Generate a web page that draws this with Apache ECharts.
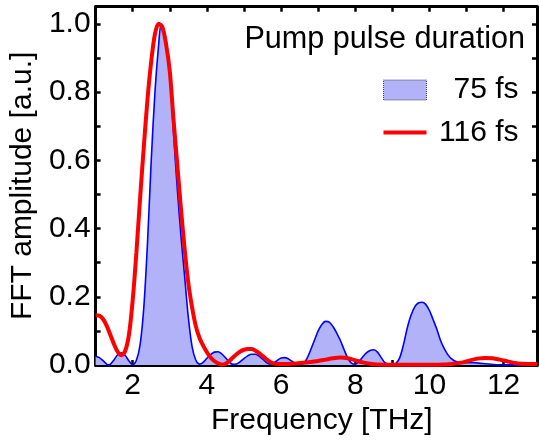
<!DOCTYPE html>
<html>
<head>
<meta charset="utf-8">
<script src="https://cdn.jsdelivr.net/npm/echarts@6/dist/echarts.min.js"></script>
<style>
html,body{margin:0;padding:0;background:#fff;}
#chart{width:539px;height:441px;}
</style>
</head>
<body>
<div id="chart"></div>
<script>
// ---- data ----
const freq75 = [1.0,1.1,1.2,1.3,1.35,1.4,1.5,1.6,1.7,1.8,1.9,2.0,2.1,2.2,2.3,2.4,2.5,2.6,2.7,2.77,2.85,2.9,3.0,3.1,3.2,3.3,3.4,3.5,3.6,3.7,3.8,3.9,4.0,4.1,4.2,4.3,4.4,4.5,4.6,4.7,4.8,4.9,5.0,5.1,5.2,5.3,5.4,5.5,5.6,5.7,5.8,5.9,6.0,6.1,6.2,6.3,6.4,6.5,6.6,6.7,6.8,6.9,7.0,7.1,7.2,7.3,7.4,7.5,7.6,7.7,7.8,7.9,8.0,8.1,8.2,8.3,8.4,8.5,8.6,8.7,8.8,8.9,9.0,9.1,9.2,9.3,9.4,9.5,9.6,9.7,9.8,9.9,10.0,10.1,10.2,10.3,10.4,10.5,10.6,10.7,10.8,11.0,11.2,11.4,11.6,11.8,12.0,12.9];
const amp75 = [0.026,0.022,0.013,0.003,0.0,0.003,0.016,0.031,0.036,0.028,0.012,0.001,0.014,0.06,0.17,0.36,0.60,0.80,0.94,1.0,0.98,0.95,0.85,0.68,0.52,0.38,0.26,0.14,0.055,0.015,0.003,0.008,0.02,0.031,0.038,0.039,0.033,0.022,0.01,0.002,0.003,0.01,0.019,0.027,0.032,0.032,0.027,0.018,0.008,0.003,0.006,0.014,0.021,0.022,0.018,0.011,0.004,0.002,0.004,0.02,0.045,0.073,0.1,0.119,0.128,0.126,0.113,0.094,0.072,0.045,0.02,0.006,0.003,0.01,0.024,0.036,0.043,0.045,0.038,0.022,0.007,0.002,0.001,0.005,0.022,0.06,0.108,0.145,0.17,0.182,0.184,0.178,0.16,0.133,0.105,0.072,0.048,0.03,0.018,0.011,0.008,0.007,0.007,0.005,0.003,0.001,0.0,0.0];

const freq116 = [1.0,1.1,1.2,1.3,1.4,1.5,1.6,1.7,1.8,1.9,2.0,2.1,2.2,2.3,2.4,2.5,2.6,2.7,2.8,2.9,3.0,3.1,3.2,3.3,3.4,3.5,3.6,3.7,3.8,3.9,4.0,4.1,4.2,4.3,4.4,4.5,4.6,4.7,4.8,4.9,5.0,5.1,5.2,5.3,5.4,5.5,5.6,5.7,5.8,5.9,6.0,6.4,6.8,7.0,7.2,7.4,7.6,7.8,8.0,8.2,8.4,8.6,9.0,10.0,10.4,10.7,10.9,11.1,11.3,11.5,11.7,11.9,12.1,12.3,12.5,12.9];
const amp116 = [0.146,0.145,0.135,0.115,0.088,0.06,0.038,0.029,0.042,0.09,0.19,0.33,0.49,0.64,0.78,0.89,0.97,1.0,0.99,0.94,0.86,0.72,0.59,0.46,0.34,0.24,0.17,0.115,0.08,0.057,0.038,0.022,0.012,0.005,0.002,0.004,0.012,0.022,0.032,0.04,0.045,0.047,0.047,0.043,0.036,0.027,0.018,0.01,0.005,0.003,0.003,0.005,0.009,0.012,0.016,0.02,0.022,0.02,0.014,0.008,0.004,0.002,0.001,0.001,0.002,0.005,0.008,0.014,0.019,0.021,0.02,0.016,0.011,0.006,0.004,0.003];

const seriesNames = ['75 fs', '116 fs'];
const legendTitle = 'Pump pulse duration';
const xName = 'Frequency [THz]';
const yName = 'FFT amplitude [a.u.]';
const xLabelValues = [2, 4, 6, 8, 10, 12];
const yLabelValues = [0.0, 0.2, 0.4, 0.6, 0.8, 1.0];

// ---- chart ----
const FONT = 'Liberation Sans';
const pairs = (xs, ys) => xs.map((x, i) => [x, ys[i]]);
const near = (v, list) => list.some(t => Math.abs(t - v) < 1e-6);

const axisCommon = {
  axisLine: { show: true, onZero: false, lineStyle: { color: '#000', width: 3 } },
  axisTick: { show: true, inside: true, length: 5, lineStyle: { color: '#000', width: 2.5 } },
  splitLine: { show: false },
  minorTick: { show: false }
};

const chart = echarts.init(document.getElementById('chart'), null, { renderer: 'canvas' });
chart.setOption({
  animation: false,
  backgroundColor: '#fff',
  title: {
    text: legendTitle,
    right: 14,
    top: 25,
    padding: 0,
    textStyle: { fontFamily: FONT, fontSize: 30.6, fontWeight: 'normal', color: '#000', lineHeight: 30 }
  },
  legend: {
    orient: 'vertical',
    left: 383,
    top: 75,
    padding: 0,
    itemWidth: 43,
    itemHeight: 20,
    itemGap: 12.5,
    align: 'left',
    selectedMode: false,
    formatter: name => '{r|' + name + '}',
    textStyle: {
      fontFamily: FONT, fontSize: 30, color: '#000',
      rich: { r: { width: 87, align: 'right', fontFamily: FONT, fontSize: 30, lineHeight: 30, color: '#000' } }
    },
    data: [
      { name: seriesNames[0], icon: 'rect',
        itemStyle: { color: '#b2b2f8', borderColor: '#444', borderWidth: 1, borderType: 'dotted' } },
      { name: seriesNames[1], icon: 'path://M0,0H45V4H0Z',
        itemStyle: { color: '#ff0000', borderWidth: 0 } }
    ]
  },
  grid: { left: 91.3, right: 2, top: 6.7, bottom: 73, containLabel: false },
  xAxis: [
    Object.assign({}, axisCommon, {
      type: 'value', position: 'bottom', min: 1, max: 12.9, interval: 1,
      name: xName, nameLocation: 'middle', nameGap: 35,
      nameTextStyle: { fontFamily: FONT, fontSize: 30, color: '#000', padding: [0, 0, 0, 11] },
      axisLabel: {
        show: true, margin: 6, fontFamily: FONT, fontSize: 30, color: '#000',
        showMinLabel: false, showMaxLabel: false,
        formatter: v => near(v, xLabelValues) ? String(Math.round(v)) : ''
      }
    }),
    Object.assign({}, axisCommon, {
      type: 'value', position: 'top', min: 1, max: 12.9, interval: 1,
      axisLabel: { show: false }
    })
  ],
  yAxis: [
    Object.assign({}, axisCommon, {
      type: 'value', position: 'left', min: 0, max: 1.05, interval: 0.1,
      name: yName, nameLocation: 'middle', nameGap: 53,
      nameTextStyle: { fontFamily: FONT, fontSize: 30, color: '#000' },
      axisLabel: {
        show: true, margin: 5, fontFamily: FONT, fontSize: 30, color: '#000',
        showMaxLabel: false,
        formatter: v => near(v, yLabelValues) ? v.toFixed(1) : ''
      }
    }),
    Object.assign({}, axisCommon, {
      type: 'value', position: 'right', min: 0, max: 1.05, interval: 0.1,
      axisLabel: { show: false }
    })
  ],
  series: [
    {
      name: seriesNames[0], type: 'line', xAxisIndex: 0, yAxisIndex: 0,
      data: pairs(freq75, amp75), smooth: 0.3, symbol: 'none', showSymbol: false,
      lineStyle: { color: '#0000ff', width: 1.6 },
      itemStyle: { color: '#b2b2f8' },
      areaStyle: { color: '#b2b2f8', opacity: 1, origin: 'start' },
      z: 2
    },
    {
      name: seriesNames[1], type: 'line', xAxisIndex: 0, yAxisIndex: 0,
      data: pairs(freq116, amp116), smooth: 0.3, symbol: 'none', showSymbol: false,
      lineStyle: { color: '#ff0000', width: 4 },
      itemStyle: { color: '#ff0000' },
      z: 3
    }
  ]
});
</script>
</body>
</html>
